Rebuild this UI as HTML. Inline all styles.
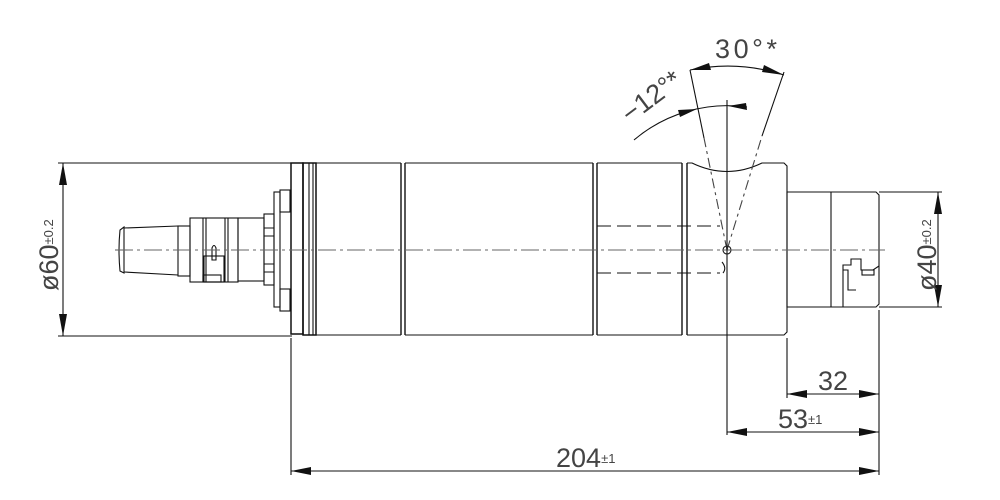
<!DOCTYPE html>
<html><head><meta charset="utf-8"><style>
html,body{margin:0;padding:0;background:#fff;}
svg{display:block;}
text{font-family:"Liberation Sans",sans-serif;fill:#444;}
</style></head><body>
<svg width="1000" height="500" viewBox="0 0 1000 500" xmlns="http://www.w3.org/2000/svg">
<g fill="none" stroke="#111" stroke-width="1.1">
<!-- left connector -->
<path d="M120,230 Q118,250 120,271 L124,273 L124,227 Z"/>
<path d="M124,228 L178,226 M124,272 L178,275"/>
<rect x="178" y="226" width="12" height="50"/>
<rect x="190" y="218" width="48" height="64"/>
<path d="M203,218 V282 M206,218 V282 M225,218 V282 M228,218 V282"/>
<path d="M212,260 V248 Q214,243 216,248 V260 Z"/>
<rect x="204" y="256" width="20" height="26"/>
<rect x="203" y="275" width="18" height="7"/>
<rect x="238" y="218" width="26" height="63"/>
<rect x="264" y="214" width="10" height="71"/>
<path d="M264,228 H274 M264,236 H274 M264,264 H274 M264,272 H274"/>
<rect x="274" y="192" width="6" height="115"/>
<rect x="280" y="190" width="10" height="22"/>
<rect x="280" y="289" width="10" height="22"/>
<!-- flange and body -->
<rect x="291" y="163" width="12" height="171" stroke-width="1.5"/>
<rect x="303" y="163" width="13" height="172" stroke-width="1.5"/>
<path d="M309,163 V335 M313,163 V335"/>
<path d="M316,163 H401 M316,335 H401"/>
<path d="M401,163 V335 M405,163 V335" stroke-width="1.4"/>
<path d="M405,163 H593 M405,335 H593"/>
<path d="M593,163 V335 M597,163 V335" stroke-width="1.4"/>
<path d="M597,163 H682 M597,335 H682"/>
<path d="M682,163 V335 M687,163 V335" stroke-width="1.4"/>
<path d="M687,163 H692 Q727,180 762,163 H784 L787,166 V332 L784,335 H687"/>
<!-- right connector -->
<path d="M787,192 H876 L879,195 V304 L876,307 H787 Z"/>
<path d="M831,192 V307"/>
<path d="M843,307 V265 H851 V259 H861 V270 H873 L879,266 M843,270 H848 V290 H856"/>
<rect x="862" y="270" width="12" height="5"/>
<!-- dashed hidden lines -->
<path d="M597,226 H720 M597,273 H720" stroke-dasharray="14,6"/>
<path d="M722,262 Q727,268 723,273"/>
<circle cx="727" cy="250" r="4"/>
<!-- centerline -->
<path d="M115,250 H885" stroke="#666" stroke-dasharray="18,4,3,4"/>
<!-- angle lines -->
<path d="M727,250 L704,138 M727,250 L762,136" stroke="#444" stroke-dasharray="10,4,3,4"/>
<path d="M704,138 L690,70 M762,136 L784,72"/>
<path d="M727,100 V435"/>
<path d="M690,70 A184,184 0 0 1 784,75"/>
<path d="M634,140 A144,144 0 0 1 747,107"/>
<!-- dimension ext lines -->
<path d="M58,163 H292 M58,336 H292"/>
<path d="M63,163 V336"/>
<path d="M879,192 H942 M879,307 H942"/>
<path d="M938,192 V307"/>
<path d="M291,338 V475 M787,338 V398 M879,310 V475"/>
<path d="M787,394 H879 M727,432 H879 M291,471 H879"/>
</g>
<g fill="#111">
<polygon points="63,163 59,185 67,185"/>
<polygon points="63,336 59,314 67,314"/>
<polygon points="938,192 934,214 942,214"/>
<polygon points="938,307 934,285 942,285"/>
<polygon points="787,394 807,390 807,398"/>
<polygon points="879,394 859,390 859,398"/>
<polygon points="727,432 747,428 747,436"/>
<polygon points="879,432 859,428 859,436"/>
<polygon points="291,471 311,467 311,475"/>
<polygon points="879,471 859,467 859,475"/>
<polygon points="690,70 709,63 711,70"/>
<polygon points="784,75 764,65 762,72"/>
<polygon points="697,109 678,110 680,117"/>
<polygon points="728,106 746,103 747,110"/>
</g>
<g font-size="27">
<text x="715" y="58" textLength="62">30°*</text>
<text x="818" y="390">32</text>
<text x="778" y="428">53<tspan font-size="13" dy="-4">±1</tspan></text>
<text x="556" y="467">204<tspan font-size="13" dy="-4">±1</tspan></text>
<text transform="translate(58,291) rotate(-90)">ø60<tspan font-size="13" dy="-5">±0.2</tspan></text>
<text transform="translate(936,291) rotate(-90)">ø40<tspan font-size="13" dy="-5">±0.2</tspan></text>
<text transform="translate(630,124) rotate(-37)">−12°*</text>
</g>
</svg>
</body></html>
